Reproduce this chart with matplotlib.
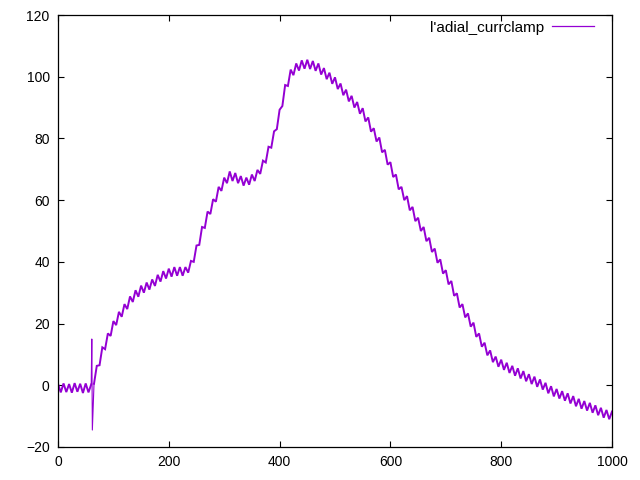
import matplotlib
matplotlib.use("Agg")
import matplotlib.pyplot as plt

# time points (ms) and membrane value samples
x_vals = list(range(0, 61, 5)) + [61, 62] + list(range(65, 1001, 5))
y_vals = [
    0.5, -2.3, 0.6, -2.2, 0.4, -2.4, 0.7, -2.1, 0.5, -2.5, 0.6, -2.3, 0.3,
    15.0, -14.5,
    0.5,
    6.3, 6.5, 12.3, 11.7, 16.8, 16.0, 20.8, 19.5, 23.8, 22.2,
    26.3, 24.7, 28.8, 27.0, 30.8, 28.7, 32.3, 30.0, 33.3, 31.0,
    34.3, 32.2, 35.8, 33.6, 37.0, 34.6, 37.8, 35.2, 38.3, 35.5,
    38.3, 35.5, 38.3, 36.5, 40.3, 40.0, 45.3, 45.5, 51.3, 51.0,
    56.3, 55.5, 60.3, 59.5, 64.3, 63.0, 67.3, 65.5, 69.3, 66.2,
    68.8, 65.5, 67.8, 64.7, 67.3, 65.0, 68.3, 66.2, 69.8, 68.5,
    72.8, 72.2, 77.3, 77.0, 82.3, 83.0, 89.3, 90.5, 97.3, 97.0,
    102.3, 100.5, 104.3, 102.0, 105.3, 102.6, 105.5, 102.5, 105.1, 101.9,
    104.3, 100.7, 102.8, 99.2, 101.3, 97.7, 99.8, 96.0, 97.8, 94.0,
    95.8, 92.0, 93.8, 90.0, 91.8, 88.0, 89.8, 85.5, 86.8, 82.2,
    83.3, 79.0, 80.3, 75.5, 76.3, 71.5, 72.3, 67.5, 68.3, 63.5,
    64.3, 60.0, 61.3, 56.7, 57.8, 53.2, 54.3, 50.0, 51.3, 46.7,
    47.8, 43.2, 44.3, 39.7, 40.8, 36.2, 37.3, 32.7, 33.8, 29.0,
    29.8, 25.2, 26.3, 22.0, 23.3, 19.0, 20.3, 15.7, 16.8, 12.5,
    13.8, 9.7, 11.3, 7.5, 9.3, 6.0, 8.3, 5.0, 7.3, 4.0,
    6.3, 3.1, 5.5, 2.2, 4.6, 1.3, 3.6, 0.4, 2.8, -0.5,
    1.9, -1.4, 0.8, -2.6, -0.3, -3.6, -1.2, -4.3, -1.9, -5.0,
    -2.6, -5.9, -3.5, -6.8, -4.4, -7.6, -5.1, -8.2, -5.7, -8.9,
    -6.5, -9.7, -7.3, -10.5, -8.0, -11.0, -8.5,
]

x_ticks = [0, 200, 400, 600, 800, 1000]
y_ticks = [-20, 0, 20, 40, 60, 80, 100, 120]
series_label = "l'adial_currclamp"

plt.rcParams['font.family'] = ['Liberation Sans', 'DejaVu Sans']

fig = plt.figure(figsize=(6.4, 4.8), dpi=100)
ax = fig.add_axes([58/640, 33/480, 554/640, 432/480])
color = '#9400D3'
# thin stimulus-artifact part of the trace, thick noisy band for the rest
ax.plot(x_vals[12:16], y_vals[12:16], color=color, linewidth=0.8)
ax.plot(x_vals[:13], y_vals[:13], color=color, linewidth=1.4, solid_joinstyle='miter')
ax.plot(x_vals[15:], y_vals[15:], color=color, linewidth=1.4, solid_joinstyle='miter')
ax.plot([], [], color=color, linewidth=0.9, label=series_label)

ax.set_xlim(0, 1000)
ax.set_ylim(-20, 120)
ax.set_xticks(x_ticks)
ax.set_yticks(y_ticks)
ax.tick_params(direction='in', length=4.5, width=0.8, top=True, right=True,
               labelsize=10, colors='black', pad=6)
for s in ax.spines.values():
    s.set_linewidth(0.9)
    s.set_color('black')

leg = ax.legend(loc='upper right', frameon=False, markerfirst=False,
                handlelength=2.75, handletextpad=0.5, fontsize=11,
                bbox_to_anchor=(0.987, 1.012), borderaxespad=0.3)

fig.savefig('out.png', dpi=100)
